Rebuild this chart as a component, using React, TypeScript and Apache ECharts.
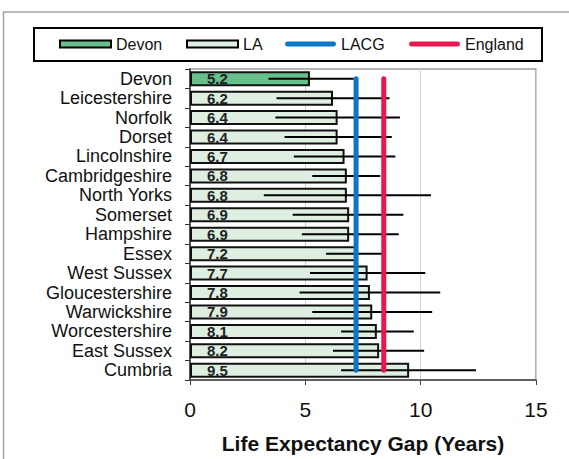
import React, { useEffect, useRef } from "react";
import * as echarts from "echarts";

const CATEGORIES = [
  "Devon",
  "Leicestershire",
  "Norfolk",
  "Dorset",
  "Lincolnshire",
  "Cambridgeshire",
  "North Yorks",
  "Somerset",
  "Hampshire",
  "Essex",
  "West Sussex",
  "Gloucestershire",
  "Warwickshire",
  "Worcestershire",
  "East Sussex",
  "Cumbria",
];
const GAP = [5.2, 6.2, 6.4, 6.4, 6.7, 6.8, 6.8, 6.9, 6.9, 7.2, 7.7, 7.8, 7.9, 8.1, 8.2, 9.5];
const CI_LOW = [3.4, 3.75, 3.7, 4.1, 4.5, 5.3, 3.2, 4.45, 4.85, 5.9, 5.2, 4.75, 5.3, 6.55, 6.2, 6.55];
const CI_HIGH = [7.1, 8.65, 9.1, 8.75, 8.9, 8.25, 10.45, 9.25, 9.05, 8.5, 10.2, 10.85, 10.5, 9.7, 10.15, 12.4];
const LACG_VALUE = 7.2;
const ENGLAND_VALUE = 8.4;
const X_TICKS = [0, 5, 10, 15];
const HIGHLIGHT = "Devon";

const DEVON_FILL = "#66c08b";
const LA_FILL = "#deefe2";
const LACG_COLOR = "#0b77c6";
const ENGLAND_COLOR = "#e8184f";
const FONT = "'Liberation Sans', Arial, sans-serif";

const LINE_ICON =
  "path://M2.5,0 L49.5,0 A2.5,2.5 0 0 1 49.5,5 L2.5,5 A2.5,2.5 0 0 1 2.5,0 Z";

export default function App() {
  const ref = useRef<HTMLDivElement>(null);

  useEffect(() => {
    if (!ref.current) return;
    const chart = echarts.init(ref.current, null, { renderer: "svg" });

    const devonData = CATEGORIES.map((c, i) => (c === HIGHLIGHT ? GAP[i] : "-"));
    const laData = CATEGORIES.map((c, i) => (c === HIGHLIGHT ? "-" : GAP[i]));
    const ciData = CATEGORIES.map((c, i) => [CI_LOW[i], CI_HIGH[i], i]);

    const barLabel = {
      show: true,
      position: "insideLeft",
      distance: 17,
      fontSize: 15,
      fontWeight: "bold",
      color: "#222",
      fontFamily: FONT,
      formatter: (p: any) => Number(p.value).toFixed(1),
    };

    const legendItems = [
      {
        name: "Devon",
        left: 59,
        icon: "rect",
        itemStyle: { color: DEVON_FILL, borderColor: "#000", borderWidth: 2 },
      },
      {
        name: "LA",
        left: 186,
        icon: "rect",
        itemStyle: { color: LA_FILL, borderColor: "#000", borderWidth: 2 },
      },
      { name: "LACG", left: 285, icon: LINE_ICON, itemStyle: { color: LACG_COLOR, borderWidth: 0 } },
      { name: "England", left: 409, icon: LINE_ICON, itemStyle: { color: ENGLAND_COLOR, borderWidth: 0 } },
    ];

    chart.setOption({
      animation: false,
      textStyle: { fontFamily: FONT },
      graphic: [
        {
          type: "rect",
          silent: true,
          shape: { x: 3.5, y: 12, width: 640, height: 520 },
          style: { fill: "none", stroke: "#a3a3a3", lineWidth: 1.5 },
        },
        {
          type: "rect",
          silent: true,
          shape: { x: 34, y: 28, width: 508, height: 33 },
          style: { fill: "none", stroke: "#000", lineWidth: 2 },
        },
      ],
      legend: legendItems.map((it) => ({
        left: it.left,
        top: 36,
        padding: 0,
        itemWidth: 51,
        itemHeight: 7,
        textStyle: { fontSize: 16, color: "#111", fontFamily: FONT },
        data: [{ name: it.name, icon: it.icon, itemStyle: it.itemStyle }],
      })),
      grid: {
        left: 190,
        top: 69,
        width: 346,
        height: 324,
        show: true,
        borderColor: "#9a9a9a",
        borderWidth: 1.5,
        containLabel: false,
      },
      xAxis: {
        type: "value",
        min: X_TICKS[0],
        max: X_TICKS[X_TICKS.length - 1],
        interval: X_TICKS[1] - X_TICKS[0],
        name: "Life Expectancy Gap (Years)",
        nameLocation: "middle",
        nameGap: 53,
        nameTextStyle: { fontSize: 21, fontWeight: "bold", color: "#111", fontFamily: FONT },
        axisLine: { show: true, lineStyle: { color: "#444", width: 1.5 } },
        axisTick: { show: true, length: 5, lineStyle: { color: "#444" } },
        axisLabel: { fontSize: 21, color: "#111", margin: 19, fontFamily: FONT },
        splitLine: { show: true, lineStyle: { color: "#d0d0d0", width: 1 } },
      },
      yAxis: {
        type: "category",
        data: CATEGORIES,
        inverse: true,
        axisLine: { show: true, lineStyle: { color: "#333", width: 1.5 } },
        axisTick: { show: true, length: 5, interval: 0, lineStyle: { color: "#333" } },
        axisLabel: {
          fontSize: 18,
          color: "#111",
          margin: 18,
          interval: 0,
          fontFamily: FONT,
        },
        splitLine: { show: false },
      },
      series: [
        {
          name: "Devon",
          type: "bar",
          data: devonData,
          barWidth: 15,
          barGap: "-100%",
          itemStyle: { color: DEVON_FILL, borderColor: "#111", borderWidth: 2 },
          label: barLabel,
          z: 2,
        },
        {
          name: "LA",
          type: "bar",
          data: laData,
          barWidth: 15,
          barGap: "-100%",
          itemStyle: { color: LA_FILL, borderColor: "#111", borderWidth: 2 },
          label: barLabel,
          z: 2,
        },
        {
          name: "CI",
          type: "custom",
          data: ciData,
          encode: { x: [0, 1], y: 2 },
          z: 3,
          renderItem: (params: any, api: any) => {
            const idx = api.value(2);
            const p1 = api.coord([api.value(0), idx]);
            const p2 = api.coord([api.value(1), idx]);
            return {
              type: "line",
              shape: { x1: p1[0], y1: p1[1], x2: p2[0], y2: p2[1] },
              style: { stroke: "#000", lineWidth: 2 },
            };
          },
        },
        {
          name: "LACG",
          type: "line",
          data: [
            [LACG_VALUE, CATEGORIES[0]],
            [LACG_VALUE, CATEGORIES[CATEGORIES.length - 1]],
          ],
          symbol: "none",
          itemStyle: { color: LACG_COLOR },
          lineStyle: { color: LACG_COLOR, width: 5, cap: "round" },
          z: 4,
        },
        {
          name: "England",
          type: "line",
          data: [
            [ENGLAND_VALUE, CATEGORIES[0]],
            [ENGLAND_VALUE, CATEGORIES[CATEGORIES.length - 1]],
          ],
          symbol: "none",
          itemStyle: { color: ENGLAND_COLOR },
          lineStyle: { color: ENGLAND_COLOR, width: 5, cap: "round" },
          z: 4,
        },
      ],
    });

    return () => chart.dispose();
  }, []);

  return (
    <div
      ref={ref}
      style={{ position: "fixed", left: 0, top: 0, width: 569, height: 459, background: "#fff" }}
    />
  );
}
